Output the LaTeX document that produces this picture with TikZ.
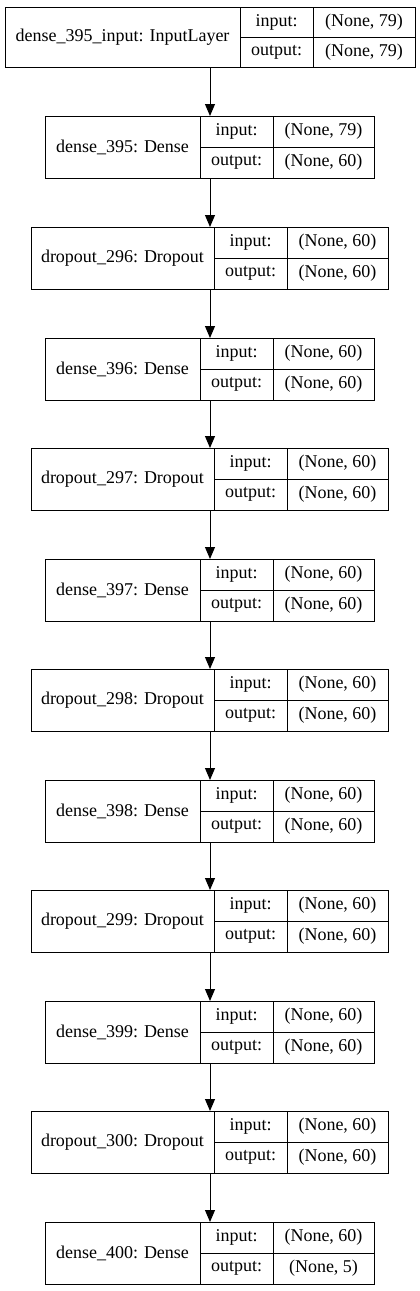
\documentclass[tikz,border=0pt]{standalone}
\usepackage{fontspec}
\setmainfont{Liberation Serif}
\usepackage{tikz}
\usetikzlibrary{arrows.meta}

\tikzset{
    cell/.style={draw, line width=1pt, inner sep=0pt, outer sep=0pt, minimum height=31pt,
        font=\fontsize{18}{21}\selectfont},
    namecell/.style={cell, minimum height=62pt, anchor=west},
    keycell/.style={cell, minimum width=73pt, anchor=north west},
    valcell/.style={cell, minimum width=101pt, anchor=north west},
    flow/.style={-{Triangle[length=12pt, width=10pt]}, line width=1pt},
}

\begin{document}
\begin{tikzpicture}[x=1pt, y=-1pt]
    \useasboundingbox (0, 0) rectangle (420, 1291);
    \coordinate (spine) at (210, 0);

    \node[namecell, minimum width=235pt, minimum height=60pt] (input395) at (5, 37) {dense\_395\_input: InputLayer};
    \node[keycell, minimum height=30pt] (input395in) at (input395.north east) {input:};
    \node[keycell, minimum height=30pt] (input395out) at (input395in.south west) {output:};
    \node[valcell, minimum height=30pt, minimum width=102pt] (input395inval) at (input395in.north east) {(None, 79)};
    \node[valcell, minimum height=30pt, minimum width=102pt] (input395outval) at (input395out.north east) {(None, 79)};

    \node[namecell, minimum width=155pt] (dense395) at (45, 147) {dense\_395: Dense};
    \node[keycell] (dense395in) at (dense395.north east) {input:};
    \node[keycell] (dense395out) at (dense395in.south west) {output:};
    \node[valcell] (dense395inval) at (dense395in.north east) {(None, 79)};
    \node[valcell] (dense395outval) at (dense395out.north east) {(None, 60)};

    \node[namecell, minimum width=183pt] (drop296) at (31, 258) {dropout\_296: Dropout};
    \node[keycell] (drop296in) at (drop296.north east) {input:};
    \node[keycell] (drop296out) at (drop296in.south west) {output:};
    \node[valcell] (drop296inval) at (drop296in.north east) {(None, 60)};
    \node[valcell] (drop296outval) at (drop296out.north east) {(None, 60)};

    \node[namecell, minimum width=155pt] (dense396) at (45, 369) {dense\_396: Dense};
    \node[keycell] (dense396in) at (dense396.north east) {input:};
    \node[keycell] (dense396out) at (dense396in.south west) {output:};
    \node[valcell] (dense396inval) at (dense396in.north east) {(None, 60)};
    \node[valcell] (dense396outval) at (dense396out.north east) {(None, 60)};

    \node[namecell, minimum width=183pt] (drop297) at (31, 479) {dropout\_297: Dropout};
    \node[keycell] (drop297in) at (drop297.north east) {input:};
    \node[keycell] (drop297out) at (drop297in.south west) {output:};
    \node[valcell] (drop297inval) at (drop297in.north east) {(None, 60)};
    \node[valcell] (drop297outval) at (drop297out.north east) {(None, 60)};

    \node[namecell, minimum width=155pt] (dense397) at (45, 590) {dense\_397: Dense};
    \node[keycell] (dense397in) at (dense397.north east) {input:};
    \node[keycell] (dense397out) at (dense397in.south west) {output:};
    \node[valcell] (dense397inval) at (dense397in.north east) {(None, 60)};
    \node[valcell] (dense397outval) at (dense397out.north east) {(None, 60)};

    \node[namecell, minimum width=183pt] (drop298) at (31, 700) {dropout\_298: Dropout};
    \node[keycell] (drop298in) at (drop298.north east) {input:};
    \node[keycell] (drop298out) at (drop298in.south west) {output:};
    \node[valcell] (drop298inval) at (drop298in.north east) {(None, 60)};
    \node[valcell] (drop298outval) at (drop298out.north east) {(None, 60)};

    \node[namecell, minimum width=155pt] (dense398) at (45, 811) {dense\_398: Dense};
    \node[keycell] (dense398in) at (dense398.north east) {input:};
    \node[keycell] (dense398out) at (dense398in.south west) {output:};
    \node[valcell] (dense398inval) at (dense398in.north east) {(None, 60)};
    \node[valcell] (dense398outval) at (dense398out.north east) {(None, 60)};

    \node[namecell, minimum width=183pt] (drop299) at (31, 921) {dropout\_299: Dropout};
    \node[keycell] (drop299in) at (drop299.north east) {input:};
    \node[keycell] (drop299out) at (drop299in.south west) {output:};
    \node[valcell] (drop299inval) at (drop299in.north east) {(None, 60)};
    \node[valcell] (drop299outval) at (drop299out.north east) {(None, 60)};

    \node[namecell, minimum width=155pt] (dense399) at (45, 1032) {dense\_399: Dense};
    \node[keycell] (dense399in) at (dense399.north east) {input:};
    \node[keycell] (dense399out) at (dense399in.south west) {output:};
    \node[valcell] (dense399inval) at (dense399in.north east) {(None, 60)};
    \node[valcell] (dense399outval) at (dense399out.north east) {(None, 60)};

    \node[namecell, minimum width=183pt] (drop300) at (31, 1142) {dropout\_300: Dropout};
    \node[keycell] (drop300in) at (drop300.north east) {input:};
    \node[keycell] (drop300out) at (drop300in.south west) {output:};
    \node[valcell] (drop300inval) at (drop300in.north east) {(None, 60)};
    \node[valcell] (drop300outval) at (drop300out.north east) {(None, 60)};

    \node[namecell, minimum width=155pt] (dense400) at (45, 1253) {dense\_400: Dense};
    \node[keycell] (dense400in) at (dense400.north east) {input:};
    \node[keycell] (dense400out) at (dense400in.south west) {output:};
    \node[valcell] (dense400inval) at (dense400in.north east) {(None, 60)};
    \node[valcell] (dense400outval) at (dense400out.north east) {(None, 5)};

    % arrows down the spine
    \draw[flow] (input395.south -| spine) -- (dense395.north -| spine);
    \draw[flow] (dense395.south -| spine) -- (drop296.north -| spine);
    \draw[flow] (drop296.south -| spine) -- (dense396.north -| spine);
    \draw[flow] (dense396.south -| spine) -- (drop297.north -| spine);
    \draw[flow] (drop297.south -| spine) -- (dense397.north -| spine);
    \draw[flow] (dense397.south -| spine) -- (drop298.north -| spine);
    \draw[flow] (drop298.south -| spine) -- (dense398.north -| spine);
    \draw[flow] (dense398.south -| spine) -- (drop299.north -| spine);
    \draw[flow] (drop299.south -| spine) -- (dense399.north -| spine);
    \draw[flow] (dense399.south -| spine) -- (drop300.north -| spine);
    \draw[flow] (drop300.south -| spine) -- (dense400.north -| spine);
\end{tikzpicture}
\end{document}
